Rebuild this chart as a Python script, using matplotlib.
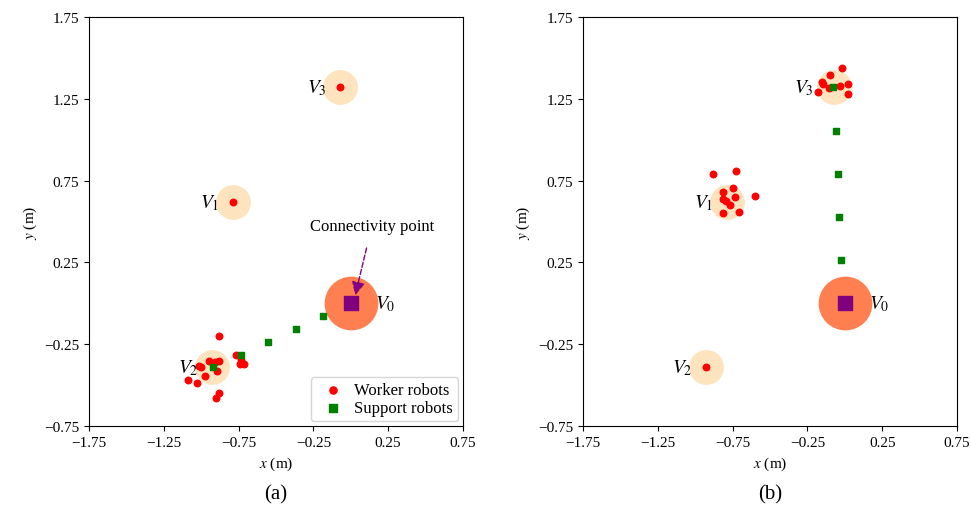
import matplotlib

matplotlib.use("Agg")
import matplotlib.pyplot as plt

plt.rcParams["font.family"] = ["Liberation Serif", "DejaVu Serif"]
plt.rcParams["mathtext.fontset"] = "stix"
plt.rcParams["font.size"] = 11

# task locations V0..V3
task_x = [0.0, -0.79, -0.93, -0.07]
task_y = [0.0, 0.62, -0.39, 1.32]
task_labels = ["$V_0$", "$V_1$", "$V_2$", "$V_3$"]

# (a) workers mostly around V2
workers_a_x = [-0.79, -0.07, -0.883, -0.769, -0.741, -0.712, -0.734, -1.015, -1.003,
               -0.946, -0.879, -0.91, -0.892, -0.975, -1.086, -1.030, -0.881, -0.903]
workers_a_y = [0.62, 1.32, -0.202, -0.314, -0.371, -0.371, -0.347, -0.381, -0.387,
               -0.351, -0.355, -0.36, -0.412, -0.443, -0.469, -0.487, -0.548, -0.581]
support_a_x = [-0.919, -0.736, -0.551, -0.366, -0.184]
support_a_y = [-0.391, -0.316, -0.235, -0.157, -0.079]

# (b) workers split between V1 and V3
workers_b_x = [-0.93, -0.879, -0.727, -0.745, -0.816, -0.600, -0.812, -0.734, -0.796,
               -0.767, -0.816, -0.707, -0.017, -0.099, -0.150, -0.143, 0.019, -0.032,
               -0.181, 0.023, -0.106]
workers_b_y = [-0.39, 0.790, 0.811, 0.705, 0.678, 0.658, 0.638, 0.648, 0.627,
               0.603, 0.552, 0.556, 1.436, 1.395, 1.355, 1.339, 1.339, 1.328,
               1.292, 1.277, 1.318]
support_b_x = [-0.077, -0.061, -0.048, -0.037, -0.023]
support_b_y = [1.322, 1.055, 0.790, 0.526, 0.265]

x_ticks = [-1.75, -1.25, -0.75, -0.25, 0.25, 0.75]
x_tick_labels = ["\u22121.75", "\u22121.25", "\u22120.75", "\u22120.25", "0.25", "0.75"]
y_ticks = [-0.75, -0.25, 0.25, 0.75, 1.25, 1.75]
y_tick_labels = ["\u22120.75", "\u22120.25", "0.25", "0.75", "1.25", "1.75"]


def draw_panel(axis, wx, wy, sx, sy, panel_label, v3_gap):
    axis.scatter(task_x[1:], task_y[1:], s=580, color="#FDE4BE", zorder=1)
    axis.scatter(task_x[:1], task_y[:1], s=1420, color="#FF7F50", zorder=1)
    axis.scatter(task_x[:1], task_y[:1], s=90, marker="s", color="purple", zorder=4)
    axis.scatter(wx, wy, s=22, color="red", zorder=2, label="Worker robots")
    axis.scatter(sx, sy, s=22, marker="s", color="green", zorder=3, label="Support robots")

    for i, label in enumerate(task_labels):
        if i == 0:
            axis.text(task_x[i] + 0.16, task_y[i], label, fontsize=14,
                      va="center", ha="left")
        else:
            gap = v3_gap if i == 3 else 0.09
            axis.text(task_x[i] - gap, task_y[i], label, fontsize=14,
                      va="center", ha="right")

    axis.set_xlim(-1.75, 0.75)
    axis.set_ylim(-0.75, 1.75)
    axis.set_xticks(x_ticks)
    axis.set_xticklabels(x_tick_labels)
    axis.set_yticks(y_ticks)
    axis.set_yticklabels(y_tick_labels)
    axis.set_xlabel("$x$ (m)", labelpad=4)
    axis.set_ylabel("$y$ (m)", labelpad=4)
    axis.text(0.5, -0.165, panel_label, transform=axis.transAxes,
              ha="center", va="center", fontsize=15)


figure = plt.figure(figsize=(9.71, 5.10), dpi=100)
ax_a = figure.add_axes([0.0917, 0.1627, 0.3851, 0.802])
ax_b = figure.add_axes([0.6004, 0.1627, 0.3852, 0.802])

draw_panel(ax_a, workers_a_x, workers_a_y, support_a_x, support_a_y, "(a)", 0.09)
draw_panel(ax_b, workers_b_x, workers_b_y, support_b_x, support_b_y, "(b)", 0.14)

ax_a.annotate("Connectivity point", xy=(0.03, 0.05), xytext=(0.14, 0.47),
              ha="center", va="center", fontsize=12,
              arrowprops=dict(arrowstyle="-|>", linestyle="--", color="purple",
                              mutation_scale=20, shrinkA=8, shrinkB=0))
ax_a.legend(loc="lower right", fontsize=12, handletextpad=0.3, markerscale=1.1,
            borderaxespad=0.3, borderpad=0.3, labelspacing=0.1)

figure.savefig("out.png", dpi=100)
plt.close(figure)
